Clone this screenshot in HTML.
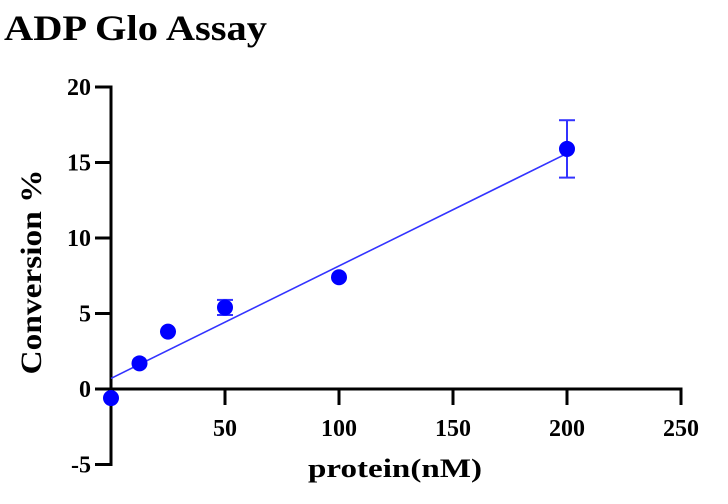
<!DOCTYPE html>
<html><head><meta charset="utf-8"><style>
html,body{margin:0;padding:0;background:#fff;width:728px;height:504px;overflow:hidden}
svg text{font-family:"Liberation Serif","DejaVu Serif","Times New Roman",serif;font-weight:bold}
</style></head><body>
<svg id="chart" width="728" height="504" viewBox="0 0 728 504" xmlns="http://www.w3.org/2000/svg" font-family="Liberation Serif, DejaVu Serif, serif">
<text x="4" y="40" font-size="36" textLength="263" lengthAdjust="spacingAndGlyphs">ADP Glo Assay</text>
<g id="axes"></g>
<g id="marks"></g>
<text x="395" y="477" font-size="26" text-anchor="middle" textLength="174" lengthAdjust="spacingAndGlyphs">protein(nM)</text>
<text transform="translate(41,272) rotate(-90)" font-size="30" text-anchor="middle" textLength="205" lengthAdjust="spacingAndGlyphs">Conversion %</text>
</svg>
<script>
const xValues = [0, 12.5, 25, 50, 100, 200];
const yValues = [-0.6, 1.7, 3.8, 5.4, 7.4, 15.9];
const yErrors = [0, 0, 0, 0.5, 0, 1.9];
const fitStart = [0, 0.7];
const fitEnd = [200, 15.6];
const xTicks = [50, 100, 150, 200, 250];
const yTicks = [-5, 0, 5, 10, 15, 20];

const X0 = 111, XS = 2.28, Y0 = 389, YS = 15.1;
const sx = v => X0 + v * XS;
const sy = v => Y0 - v * YS;
const NS = "http://www.w3.org/2000/svg";
function mk(tag, attrs, parent) {
  const e = document.createElementNS(NS, tag);
  for (const k in attrs) e.setAttribute(k, attrs[k]);
  parent.appendChild(e);
  return e;
}
const axes = document.getElementById("axes");
const marks = document.getElementById("marks");

const yAxis = mk("line", {x1: X0, y1: sy(20) - 1.5, x2: X0, y2: sy(-5) + 1.5, stroke: "#000", "stroke-width": 3}, axes);


const xAxis = mk("line", {x1: X0, y1: Y0, x2: sx(250) + 1.5, y2: Y0, stroke: "#000", "stroke-width": 3}, axes);



yTicks.forEach(t => {
  const l = mk("line", {x1: X0 - 16, y1: sy(t), x2: X0, y2: sy(t), stroke: "#000", "stroke-width": 3}, axes);
  
  
  const tx = mk("text", {x: X0 - 20, y: sy(t) + 8, "font-size": 24, "text-anchor": "end"}, axes);
  tx.textContent = t;
  
  
});
xTicks.forEach(t => {
  const l = mk("line", {x1: sx(t), y1: Y0, x2: sx(t), y2: Y0 + 16, stroke: "#000", "stroke-width": 3}, axes);
  
  
  const tx = mk("text", {x: sx(t), y: Y0 + 47, "font-size": 24, "text-anchor": "middle"}, axes);
  tx.textContent = t;
  
  
});

const fit = mk("line", {x1: sx(fitStart[0]), y1: sy(fitStart[1]), x2: sx(fitEnd[0]), y2: sy(fitEnd[1]), stroke: "#3333ff", "stroke-width": 1.6}, marks);



xValues.forEach((xv, i) => {
  const e = yErrors[i];
  if (e > 0) {
    const g = mk("g", {stroke: "#3333ff", "stroke-width": 2}, marks);
    
    
    mk("line", {x1: sx(xv), y1: sy(yValues[i] + e), x2: sx(xv), y2: sy(yValues[i] - e)}, g);
    mk("line", {x1: sx(xv) - 8, y1: sy(yValues[i] + e), x2: sx(xv) + 8, y2: sy(yValues[i] + e)}, g);
    mk("line", {x1: sx(xv) - 8, y1: sy(yValues[i] - e), x2: sx(xv) + 8, y2: sy(yValues[i] - e)}, g);
  }
  const c = mk("circle", {cx: sx(xv), cy: sy(yValues[i]), r: 8, fill: "#0000ff"}, marks);
  
  
});
</script>
</body></html>
